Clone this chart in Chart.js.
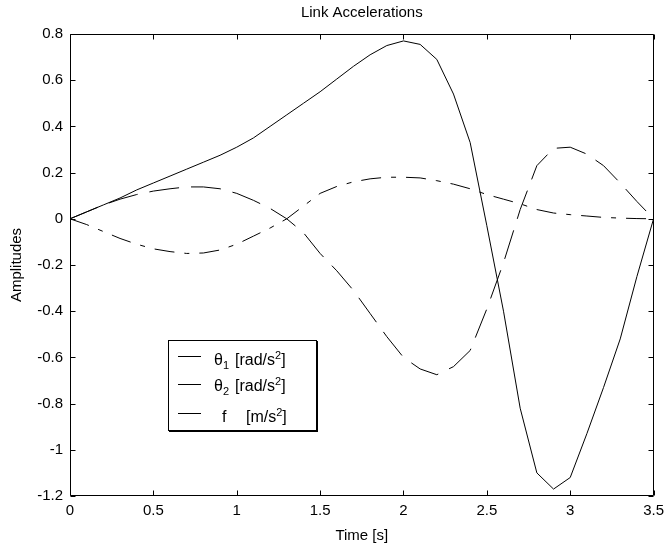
<!DOCTYPE html>
<html>
<head>
<meta charset="utf-8">
<title>Link Accelerations</title>
<script src="https://cdn.jsdelivr.net/npm/chart.js@4.4.1/dist/chart.umd.min.js"></script>
<style>
  body { margin: 0; background: #fff; }
  #wrap { position: relative; width: 670px; height: 550px; }
  #legend {
    position: absolute; left: 168px; top: 340px; width: 147px; height: 89px;
    border: 1px solid #000; box-shadow: 1px 1px 0 #000; background: #fff;
    font: 16px "Liberation Sans", Arial, sans-serif; color: #000;
  }
  .swatch { position: absolute; left: 9px; width: 23px; border-top: 1px solid #000; }
  .lbl { position: absolute; white-space: nowrap; line-height: 18px; }
  sub, sup { font-size: 11px; line-height: 0; }
</style>
</head>
<body>
<div id="wrap">
  <canvas id="chart"></canvas>
  <div id="legend"></div>
</div>
<script>
// time axis (s)
const timeValues = [0, 0.1, 0.2, 0.3, 0.4, 0.5, 0.6, 0.7, 0.8, 0.9, 1.0, 1.1, 1.2, 1.3, 1.4, 1.5, 1.6, 1.7,
  1.8, 1.9, 2.0, 2.1, 2.2, 2.3, 2.4, 2.5, 2.6, 2.7, 2.8, 2.9, 3.0, 3.1, 3.2, 3.3, 3.4, 3.5];

// theta1 acceleration [rad/s^2] - solid
const theta1Values = [0, 0.03, 0.06, 0.09, 0.125, 0.155, 0.185, 0.215, 0.245, 0.275, 0.31, 0.35, 0.40, 0.45,
  0.50, 0.55, 0.605, 0.66, 0.71, 0.75, 0.77, 0.755, 0.69, 0.54, 0.33, -0.03, -0.40, -0.82, -1.10, -1.17,
  -1.12, -0.93, -0.73, -0.52, -0.25, 0];

// theta2 acceleration [rad/s^2] - dashed
const theta2Values = [0, 0.03, 0.06, 0.085, 0.105, 0.12, 0.13, 0.138, 0.138, 0.13, 0.11, 0.08, 0.045, 0.0,
  -0.06, -0.15, -0.225, -0.31, -0.41, -0.51, -0.60, -0.65, -0.675, -0.64, -0.57, -0.39, -0.19, 0.04, 0.23,
  0.305, 0.31, 0.28, 0.23, 0.155, 0.075, 0];

// f acceleration [m/s^2] - dash-dot
const fValues = [0, -0.025, -0.055, -0.085, -0.11, -0.13, -0.142, -0.15, -0.148, -0.135, -0.11, -0.075, -0.04,
  0.0, 0.055, 0.11, 0.14, 0.16, 0.173, 0.18, 0.18, 0.177, 0.165, 0.15, 0.13, 0.105, 0.085, 0.065, 0.04, 0.025,
  0.018, 0.012, 0.006, 0.003, 0.001, 0];

// tick labels
const xTickValues = [0, 0.5, 1, 1.5, 2, 2.5, 3, 3.5];
const yTickValues = [0.8, 0.6, 0.4, 0.2, 0, -0.2, -0.4, -0.6, -0.8, -1, -1.2];

// legend entries
const legendSymbols = ["θ", "θ", "f"];
const legendSubs = ["1", "2", ""];
const legendUnits = ["rad/s", "rad/s", "m/s"];

const FONT = "'Liberation Sans', Arial, sans-serif";

function toPoints(ys) {
  return timeValues.map((t, i) => ({ x: t, y: ys[i] }));
}

// MATLAB style box with inward ticks on all four sides
const boxPlugin = {
  id: "matlabBox",
  afterDatasetsDraw(chart) {
    const { ctx, chartArea: a, scales: { x, y } } = chart;
    const l = Math.round(a.left) + 0.5, r = Math.round(a.right) - 0.5;
    const t = Math.round(a.top) + 0.5, b = Math.round(a.bottom) - 0.5;
    ctx.save();
    ctx.strokeStyle = "#000";
    ctx.lineWidth = 1;
    ctx.beginPath();
    ctx.rect(l, t, r - l, b - t);
    xTickValues.forEach(v => {
      const px = Math.round(x.getPixelForValue(v)) + 0.5;
      ctx.moveTo(px, b); ctx.lineTo(px, b - 5);
      ctx.moveTo(px, t); ctx.lineTo(px, t + 5);
    });
    yTickValues.forEach(v => {
      const py = Math.round(y.getPixelForValue(v)) + 0.5;
      ctx.moveTo(l, py); ctx.lineTo(l + 5, py);
      ctx.moveTo(r, py); ctx.lineTo(r - 5, py);
    });
    ctx.stroke();
    ctx.restore();
  }
};

new Chart(document.getElementById("chart"), {
  type: "line",
  data: {
    datasets: [
      { label: "theta1", data: toPoints(theta1Values), borderColor: "#000", borderWidth: 1, pointRadius: 0 },
      { label: "theta2", data: toPoints(theta2Values), borderColor: "#000", borderWidth: 1, pointRadius: 0, borderDash: [30, 12] },
      { label: "f", data: toPoints(fValues), borderColor: "#000", borderWidth: 1, pointRadius: 0, borderDash: [20, 10, 5, 10] }
    ]
  },
  options: {
    responsive: true,
    maintainAspectRatio: false,
    animation: false,
    layout: { padding: { left: 0, right: 15, top: 0, bottom: 0 } },
    plugins: {
      legend: { display: false },
      tooltip: { enabled: false },
      title: {
        display: true,
        text: "Link Accelerations",
        fullSize: false,
        color: "#000",
        font: { family: FONT, size: 15, weight: "normal" },
        padding: { top: 4, bottom: 12 }
      }
    },
    scales: {
      x: {
        type: "linear",
        min: 0, max: 3.5,
        afterBuildTicks: s => { s.ticks = xTickValues.map(v => ({ value: v })); },
        afterFit: s => { s.height = 54; },
        grid: { display: false, drawTicks: false },
        border: { display: false },
        ticks: { color: "#000", padding: 6, maxRotation: 0, font: { family: FONT, size: 15 },
          callback: v => String(Number(v.toFixed(2))) },
        title: { display: true, text: "Time [s]", color: "#000", font: { family: FONT, size: 15 },
          padding: { top: 0, bottom: 5 } }
      },
      y: {
        type: "linear",
        min: -1.2, max: 0.8,
        afterBuildTicks: s => { s.ticks = yTickValues.map(v => ({ value: v })); },
        afterFit: s => { s.width = 70; },
        grid: { display: false, drawTicks: false },
        border: { display: false },
        ticks: { color: "#000", padding: 7, font: { family: FONT, size: 15 },
          callback: v => String(Number(v.toFixed(2))) },
        title: { display: true, text: "Amplitudes", color: "#000", font: { family: FONT, size: 15 },
          padding: { top: 8, bottom: 0 } }
      }
    }
  },
  plugins: [boxPlugin]
});

// legend box with sub/superscripts
const legendEl = document.getElementById("legend");
const swatchTops = [15, 43, 72];
const labelTops = [10, 36, 67];
legendSymbols.forEach((sym, i) => {
  const sw = document.createElement("div");
  sw.className = "swatch";
  sw.style.top = swatchTops[i] + "px";
  legendEl.appendChild(sw);

  const symEl = document.createElement("div");
  symEl.className = "lbl";
  symEl.style.top = labelTops[i] + "px";
  symEl.style.left = (legendSubs[i] ? 45 : 53) + "px";
  symEl.innerHTML = sym + (legendSubs[i] ? "<sub>" + legendSubs[i] + "</sub>" : "");
  legendEl.appendChild(symEl);

  const unitEl = document.createElement("div");
  unitEl.className = "lbl";
  unitEl.style.top = labelTops[i] + "px";
  unitEl.style.left = (legendSubs[i] ? 66 : 77) + "px";
  unitEl.innerHTML = "[" + legendUnits[i] + "<sup>2</sup>]";
  legendEl.appendChild(unitEl);
});
</script>
</body>
</html>
